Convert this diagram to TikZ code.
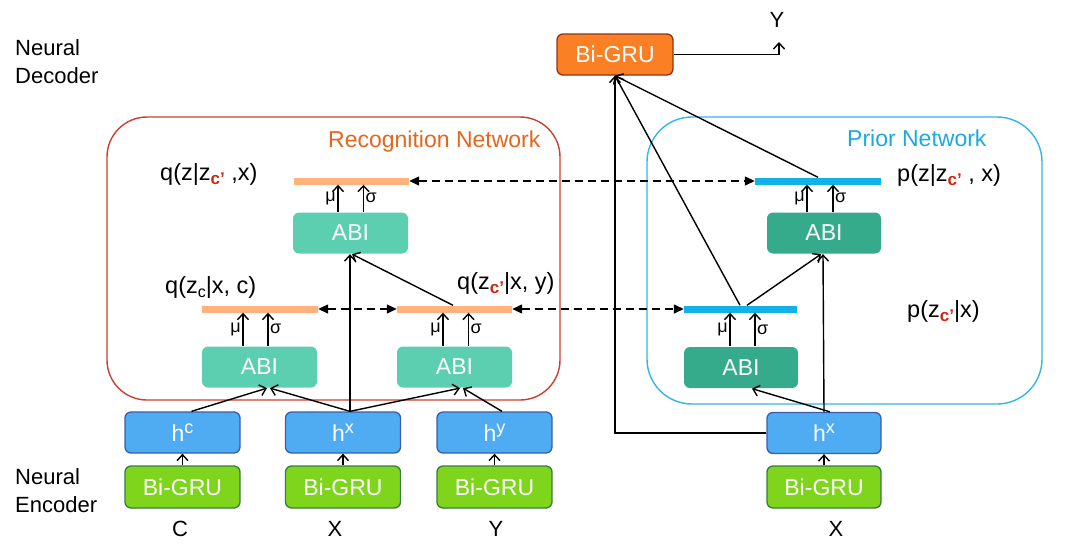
\documentclass[tikz,border=0pt]{standalone}
\usepackage{fontspec}
\setmainfont{Liberation Sans}
\usetikzlibrary{arrows.meta,calc}
\definecolor{decfill}{HTML}{FB7F24}
\definecolor{decdraw}{HTML}{8E3416}
\definecolor{mint}{HTML}{5DCFB1}
\definecolor{teal}{HTML}{36AB8B}
\definecolor{hfill}{HTML}{4FACF3}
\definecolor{hdraw}{HTML}{3A5DA8}
\definecolor{gfill}{HTML}{7FD51B}
\definecolor{gdraw}{HTML}{3B7A45}
\definecolor{qbar}{HTML}{FFB27B}
\definecolor{pbar}{HTML}{13B1E8}
\definecolor{recdraw}{HTML}{C9412E}
\definecolor{reclbl}{HTML}{E2671B}
\definecolor{pridraw}{HTML}{33B6E6}
\definecolor{prilbl}{HTML}{1CA9E1}
\definecolor{subred}{HTML}{C62A12}
\newcommand{\cpr}{\raisebox{-4pt}{\fontsize{17}{17}\selectfont\bfseries\color{subred}c’}}
\newcommand{\csub}{\raisebox{-4pt}{\fontsize{16}{16}\selectfont c}}
\newcommand{\hsup}[1]{h\raisebox{8pt}{\fontsize{18}{18}\selectfont #1}}
\begin{document}
\begin{tikzpicture}[x=1pt,y=-1pt,
  font=\fontsize{22}{26}\selectfont,
  box/.style={rectangle,rounded corners=6pt,inner sep=0pt,text=white,line width=1.3pt,font=\fontsize{23}{26}\selectfont},
  decbox/.style={box,fill=decfill,draw=decdraw,minimum width=116pt,minimum height=41pt},
  abibox/.style={box,fill=mint,minimum width=115pt,minimum height=41pt},
  pabibox/.style={box,fill=teal,minimum width=114pt,minimum height=41pt},
  hbox/.style={box,fill=hfill,draw=hdraw,minimum width=115pt,minimum height=41pt},
  gbox/.style={box,fill=gfill,draw=gdraw,minimum width=115pt,minimum height=42pt},
  qbarst/.style={rectangle,fill=qbar,inner sep=0pt,minimum height=7pt},
  pbarst/.style={rectangle,fill=pbar,inner sep=0pt,minimum height=7pt},
  conn/.style={line width=1.4pt,-{Straight Barb[length=6pt,width=11pt,line width=1.4pt]}},
  dash2/.style={line width=1.4pt,dash pattern=on 8pt off 5pt,{Triangle[length=10pt,width=9pt]}-{Triangle[length=10pt,width=9pt]}},
  musig/.style={font=\fontsize{18}{20}\selectfont,inner sep=1.5pt},
  lbl/.style={inner sep=0pt},
  dist/.style={inner sep=0pt,anchor=west,font=\fontsize{23.5}{26}\selectfont}
]
\useasboundingbox (0,0) rectangle (1080,552);

% network frames
\draw[recdraw,line width=1.4pt,rounded corners=40pt] (107,117) rectangle (560,400);
\draw[pridraw,line width=1.4pt,rounded corners=45pt] (647,117) rectangle (1042,404);
\node[lbl,text=reclbl,font=\fontsize{23}{26}\selectfont,anchor=west] (recl) at (328,142) {Recognition Network};
\node[lbl,text=prilbl,font=\fontsize{23}{26}\selectfont,anchor=west] (pril) at (847,138) {Prior Network};

% side labels
\node[lbl,anchor=north west,align=left,font=\fontsize{22}{28}\selectfont] (ndec) at (15,39) {Neural\\Decoder};
\node[lbl,anchor=north west,align=left,font=\fontsize{22}{28}\selectfont] (nenc) at (15,468) {Neural\\Encoder};

% decoder
\node[decbox] (dec) at (615,54.5) {Bi-GRU};
\node[lbl] (yout) at (777,20) {Y};
\coordinate (ytip) at (779,42);

% recognition network
\node[abibox] (abiT) at (350.5,233) {ABI};
\node[abibox] (abiL) at (259.5,367) {ABI};
\node[abibox] (abiR) at (454.5,367) {ABI};
\node[qbarst,minimum width=115pt] (barT) at (351.5,181) {};
\node[qbarst,minimum width=116pt] (barL) at (260,309) {};
\node[qbarst,minimum width=115pt] (barR) at (454.5,309) {};

% prior network
\node[pabibox] (pabiT) at (824,233) {ABI};
\node[pabibox] (pabiL) at (741,367.5) {ABI};
\node[pbarst,minimum width=126pt] (pbarT) at (818,181) {};
\node[pbarst,minimum width=113pt] (pbarL) at (740.5,309) {};

% encoders
\node[hbox] (hc) at (182.5,432.5) {\hsup{c}};
\node[hbox] (hx) at (343,432.5) {\hsup{x}};
\node[hbox] (hy) at (494.5,432.5) {\hsup{y}};
\node[hbox,minimum width=114pt] (phx) at (824,433) {\hsup{x}};
\node[gbox] (gc) at (182.5,487) {Bi-GRU};
\node[gbox] (gx) at (343,487) {Bi-GRU};
\node[gbox] (gy) at (494.5,487) {Bi-GRU};
\node[gbox,minimum width=114pt] (pgx) at (824,487) {Bi-GRU};
\node[lbl] (lc) at (180,529) {C};
\node[lbl] (lx) at (335,529) {X};
\node[lbl] (ly) at (496,529) {Y};
\node[lbl] (plx) at (836,529) {X};

% distribution labels
\node[dist] (qTl) at (160,174) {q(z|z\cpr\ ,x)};
\node[dist] (qLl) at (165,287) {q(z\csub|x, c)};
\node[dist] (qRl) at (457,283) {q(z\cpr|x, y)};
\node[dist] (pTl) at (897,175) {p(z|z\cpr\ , x)};
\node[dist] (pLl) at (907,311) {p(z\cpr|x)};

% mu sigma arrows
\foreach \a/\b/\m/\s in {abiT/barT/-12.5/13, abiL/barL/-16.5/8.5, abiR/barR/-11.5/14, pabiT/pbarT/-17/9, pabiL/pbarL/-11/14}{
  \draw[conn] ([xshift=\m pt]\a.north) -- ([xshift=\m pt]\a.north |- \b.south) node[musig,midway,anchor=east] {μ};
  \draw[conn] ([xshift=\s pt]\a.north) -- ([xshift=\s pt]\a.north |- \b.south) node[musig,midway,anchor=west] {σ};
}

% dashed links
\draw[dash2] (barT.east) -- (pbarT.west);
\draw[dash2] (barL.east) -- (barR.west);
\draw[dash2] (barR.east) -- (pbarL.west);

% encoder to h
\foreach \g/\h in {gc/hc, gx/hx, gy/hy, pgx/phx}{
  \draw[conn] (\g.north) -- (\h.south);
}

% recognition connectors
\draw[conn] ([xshift=9pt]hc.north) -- ([xshift=7.5pt]abiL.south);
\draw[conn] ([xshift=7pt]hx.north) -- ([xshift=10.5pt]abiL.south);
\draw[conn] ([xshift=7pt]hx.north) -- ([xshift=5.5pt]abiR.south);
\draw[conn] ([xshift=7.5pt]hy.north) -- ([xshift=8.5pt]abiR.south);
\draw[conn] ([xshift=7pt]hx.north) -- ([xshift=-0.5pt]abiT.south);
\draw[conn] ([xshift=-1.5pt]barR.north) -- ([xshift=1.5pt]abiT.south);

% prior connectors
\draw[conn] (phx.north) -- ([xshift=-1pt]pabiT.south);
\draw[conn] ([xshift=6pt]phx.north) -- ([xshift=11pt]pabiL.south);
\draw[conn] ([xshift=6.5pt]pbarL.north) -- ([xshift=-3pt]pabiT.south);

% to decoder
\draw[conn] (phx.west) -| (dec.south);
\draw[conn] ([xshift=-0.5pt]pbarL.north) -- (dec.south);
\draw[conn] (pbarT.north) -- (dec.south);
\draw[conn] (dec.east) -| (ytip);
\end{tikzpicture}
\end{document}
